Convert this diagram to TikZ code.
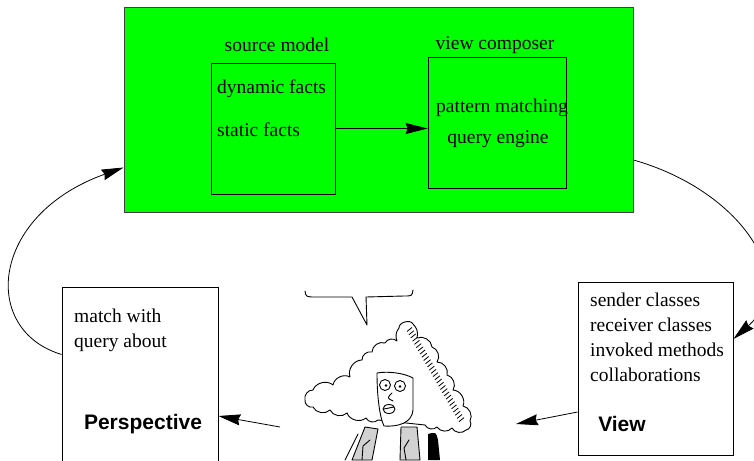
\documentclass[tikz,border=0pt]{standalone}
\usepackage{fontspec}
\setmainfont{Liberation Serif}
\setsansfont{Liberation Sans}
\usepackage{tikz}
\usetikzlibrary{arrows.meta,positioning,calc}

\begin{document}
\begin{tikzpicture}[
    x=1pt, y=-1pt,
    font=\fontsize{19.5}{25}\selectfont,
    box/.style={draw, line width=0.8pt, inner sep=0pt},
    txt/.style={inner sep=0pt, align=left},
    title/.style={inner sep=0pt, font=\fontsize{21}{25}\selectfont\sffamily\bfseries},
    flow/.style={line width=0.8pt, -{Stealth[length=22pt,width=11pt,inset=2pt]}},
    ink/.style={line width=0.9pt, line join=round, line cap=round},
    bump/.style={bend left=55}
  ]
  \useasboundingbox (0,0) rectangle (754,460);
  \clip (0,0) rectangle (754,460);

  % tool side
  \node[box, fill=green, draw=black!75, minimum width=509pt, minimum height=205pt] (model) at (378.5,109.5) {};
  \node[box, minimum width=124pt, minimum height=131pt] (src) at (273,128.5) {};
  \node[box, minimum width=138pt, minimum height=131pt] (cmp) at (497,122.5) {};
  \node[txt] (srclbl) at (277,45) {source model};
  \node[txt] (cmplbl) at (495,45) {view composer};
  \node[txt, anchor=west] (dyn) at (217,89) {dynamic facts};
  \node[txt, anchor=west] (stat) at (217,130) {static facts};
  \node[txt] (pat) at (502,108) {pattern matching};
  \node[txt] (qry) at (498,139) {query engine};
  \draw[flow] (src.east) -- (src.east -| cmp.west);

  % user side
  \node[box, minimum width=156pt, minimum height=183pt] (persp) at (140,378.5) {};
  \node[box, minimum width=155pt, minimum height=173pt] (viewb) at (655.5,368.5) {};
  \node[txt, anchor=west] (ask) at (74,330.5) {match with\\query about};
  \node[txt, anchor=west] (facts) at (590,337) {sender classes\\receiver classes\\invoked methods\\collaborations};
  \node[title] (persplbl) at (143,424) {Perspective};
  \node[title] (viewlbl) at (622,424) {View};

  % the loop
  \draw[flow] ([yshift=24pt]persp.west) .. controls (-20,330) and (-10,215) .. ([yshift=-58pt]model.west);
  \draw[flow] ([yshift=-50.5pt]model.east) .. controls (740,190) and (800,280) .. ([yshift=29.5pt]viewb.east);
  \coordinate (gaze) at (516,424);
  \coordinate (speaker) at (280,427);
  \draw[flow] ([yshift=-43.5pt]viewb.west) -- (gaze);
  \draw[flow] (speaker) -- ([yshift=-37.5pt]persp.east);

  % speech bubble
  \draw[ink] (305,291) .. controls (306,297) .. (316,297) -- (352,297) -- (367,325) -- (366,297)
    -- (404,296) .. controls (412,296) .. (413,290);

  % hair
  \draw[ink, fill=white] (305,400) to[bump] (313,390) to[bump] (333,385) to[bump] (350,377)
    to[bump] (362,360) to[bump] (372,352) to[bump] (385,343) to[bump] (397,341)
    to[bend left=30] (399,328) to[bend left=80] (413,324) to[bend left=30] (417,338)
    to[bump] (432,347) to[bump] (437,362) to[bump] (447,375) to[bump] (453,390)
    to[bump] (463,406) to[bump] (470,421) to[bend left=60] (466,430) to[bump] (452,428)
    to[bump] (437,427) to[bump] (425,425) -- (378,420)
    to[bump] (366,418) to[bump] (347,413) to[bump] (330,410) to[bump] (313,407)
    to[bend left=60] cycle;
  \foreach \t in {0,0.035,...,1.01}
    \draw[line width=0.8pt] ($(414,330)!\t!(467,422)$) ++(-7,1.5) -- ++(5,-4);

  % face
  \draw[ink, fill=white] (377,373) .. controls (388,371) and (404,373) .. (413,378)
    -- (413,410) .. controls (412,423) and (398,427) .. (384,426)
    .. controls (380,418) and (377,398) .. cycle;
  \draw[ink] (385,385) circle (5.5) (400,386) circle (5.5);
  \fill (386,385.5) circle (1.3) (400,386.5) circle (1.3);
  \draw[ink] (392,393) .. controls (387,398) .. (393,401);
  \draw[ink] (389,409) ellipse (6 and 4.5);
  \draw[ink] (384,409) -- (394,407);

  % coat
  \draw[ink, fill=gray!35] (365,427) -- (378,429) -- (372,460) -- (352,460) -- cycle;
  \draw[ink] (370,440) -- (363,446) -- (362,460);
  \draw[ink, fill=gray!35] (401,427) -- (417,427) -- (420,460) -- (400,460) -- cycle;
  \draw[ink] (409,440) -- (404,448) -- (406,460);
  \draw[ink] (358,434) -- (345,460);
  \fill (428,434) .. controls (436,432) .. (438,440) -- (440,460) -- (428,460) -- cycle;
\end{tikzpicture}
\end{document}
